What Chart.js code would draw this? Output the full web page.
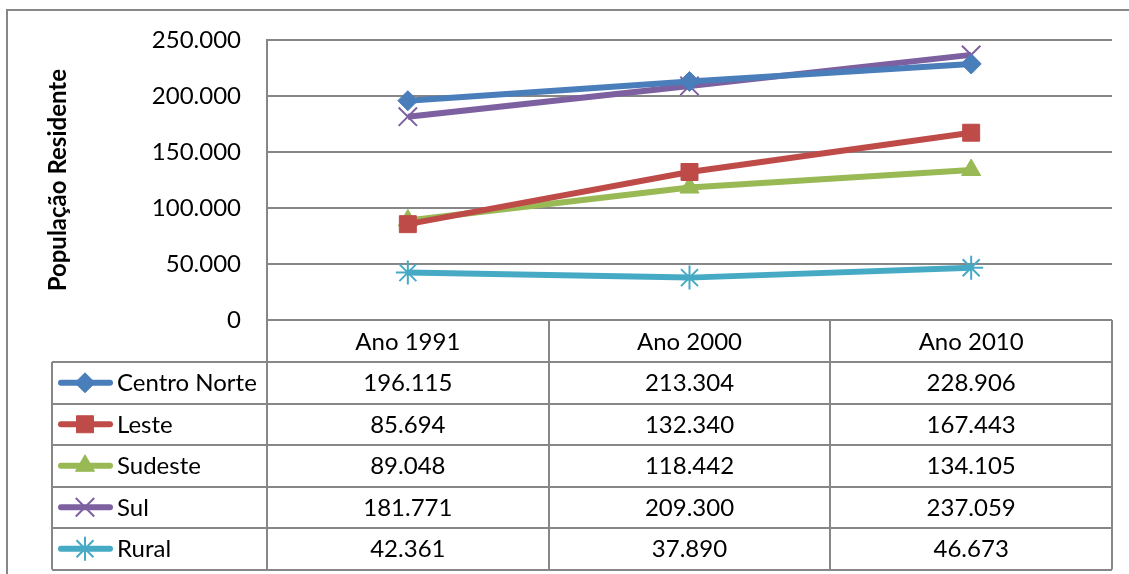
<!DOCTYPE html>
<html>
<head>
<meta charset="utf-8">
<script src="https://cdn.jsdelivr.net/npm/chart.js@4/dist/chart.umd.min.js"></script>
<style>
  html, body { margin: 0; padding: 0; background: #fff; }
  #wrap { width: 1129px; height: 574px; }
</style>
</head>
<body>
<div id="wrap"><canvas id="chart" width="1129" height="574"></canvas></div>
<script>
// Data
const years = ['Ano 1991', 'Ano 2000', 'Ano 2010'];
const seriesNames = ['Centro Norte', 'Leste', 'Sudeste', 'Sul', 'Rural'];
const centroNorte = [196115, 213304, 228906];
const leste = [85694, 132340, 167443];
const sudeste = [89048, 118442, 134105];
const sul = [181771, 209300, 237059];
const rural = [42361, 37890, 46673];
const yTicks = [0, 50000, 100000, 150000, 200000, 250000];

const FONT = 'Lato, "Open Sans", sans-serif';
const GRID = '#878787';

const fmt = v => v.toString().replace(/\B(?=(\d{3})+(?!\d))/g, '.');

const styles = [
    { color: '#4A7EBB', point: 'rectRot', radius: 10, pbw: 1 },
    { color: '#BE4B48', point: 'rect', radius: 12, pbw: 1 },
    { color: '#98B954', point: 'triangle', radius: 11, pbw: 1 },
    { color: '#7D60A0', point: 'crossRot', radius: 13, pbw: 2 },
    { color: '#46AAC5', point: 'star', radius: 12, pbw: 2 },
];
const values = [centroNorte, leste, sudeste, sul, rural];

const datasets = seriesNames.map((name, i) => ({
    label: name,
    data: values[i],
    borderColor: styles[i].color,
    backgroundColor: styles[i].color,
    borderWidth: 6,
    pointStyle: styles[i].point,
    pointRadius: styles[i].radius,
    pointBorderWidth: styles[i].pbw,
    pointBackgroundColor: styles[i].color,
    pointBorderColor: styles[i].color,
    tension: 0,
    clip: false,
}));

// outer frame + data table below the plot
const tablePlugin = {
    id: 'dataTable',
    afterDraw(chart) {
        const ctx = chart.ctx;
        const area = chart.chartArea;
        const x = chart.scales.x;
        const rowH = 41.5;
        const headTop = area.bottom;
        const headBottom = headTop + 42;
        const legendLeft = 52;
        const colEdges = [area.left];
        for (let i = 1; i <= years.length; i++) {
            colEdges.push(Math.round(area.left + (area.right - area.left) * i / years.length));
        }
        ctx.save();
        ctx.strokeStyle = GRID;
        ctx.lineWidth = 2;
        ctx.strokeRect(7, 10, 1200, 600);

        const lastBottom = headBottom + rowH * seriesNames.length;
        for (let r = 0; r <= seriesNames.length; r++) {
            const y = Math.round(headBottom + rowH * r);
            ctx.beginPath();
            ctx.moveTo(legendLeft, y);
            ctx.lineTo(area.right, y);
            ctx.stroke();
        }
        colEdges.forEach(cx => {
            ctx.beginPath();
            ctx.moveTo(cx, headTop);
            ctx.lineTo(cx, lastBottom);
            ctx.stroke();
        });
        ctx.beginPath();
        ctx.moveTo(legendLeft, headBottom);
        ctx.lineTo(legendLeft, lastBottom);
        ctx.stroke();

        ctx.fillStyle = '#000';
        ctx.font = '24px ' + FONT;
        ctx.textAlign = 'center';
        ctx.textBaseline = 'middle';
        years.forEach((yr, i) => {
            ctx.fillText(yr, x.getPixelForValue(i), (headTop + headBottom) / 2 + 1);
        });

        seriesNames.forEach((name, r) => {
            const cy = headBottom + rowH * r + rowH / 2 + 1;
            ctx.fillStyle = '#000';
            ctx.textAlign = 'center';
            values[r].forEach((v, i) => {
                ctx.fillText(fmt(v), x.getPixelForValue(i), cy);
            });
            // legend key
            const st = styles[r];
            ctx.strokeStyle = st.color;
            ctx.fillStyle = st.color;
            ctx.lineWidth = 6;
            ctx.lineCap = 'round';
            ctx.beginPath();
            ctx.moveTo(61, cy - 1);
            ctx.lineTo(110, cy - 1);
            ctx.stroke();
            ctx.lineCap = 'butt';
            ctx.lineWidth = st.pbw;
            Chart.helpers.drawPoint(ctx, {
                pointStyle: st.point,
                radius: st.radius,
                rotation: 0,
                borderWidth: st.pbw,
            }, 85, cy - 1);
            ctx.fillStyle = '#000';
            ctx.textAlign = 'left';
            ctx.fillText(name, 117, cy);
        });
        ctx.restore();
    }
};

new Chart(document.getElementById('chart'), {
    type: 'line',
    data: { labels: years, datasets },
    options: {
        responsive: false,
        animation: false,
        layout: { padding: { left: 0, top: 40, right: 17, bottom: 254 } },
        plugins: {
            legend: { display: false },
            tooltip: { enabled: false },
        },
        scales: {
            x: {
                type: 'category',
                offset: true,
                grid: { display: false },
                border: { display: false },
                ticks: { display: false },
                afterFit: s => { s.height = 0; },
            },
            y: {
                min: 0,
                max: 250000,
                afterBuildTicks: s => { s.ticks = yTicks.map(v => ({ value: v })); },
                afterFit: s => { s.width = 267; },
                grid: { color: GRID, lineWidth: 2, drawTicks: false },
                border: { display: true, color: GRID, width: 2 },
                ticks: {
                    padding: 26,
                    color: '#000',
                    font: { family: FONT, size: 24 },
                    callback: v => fmt(v),
                },
                title: {
                    display: true,
                    text: 'População Residente',
                    color: '#000',
                    font: { family: FONT, size: 24, weight: 'bold' },
                    padding: { top: 44, bottom: 0 },
                },
            },
        },
    },
    plugins: [tablePlugin],
});
</script>
</body>
</html>
